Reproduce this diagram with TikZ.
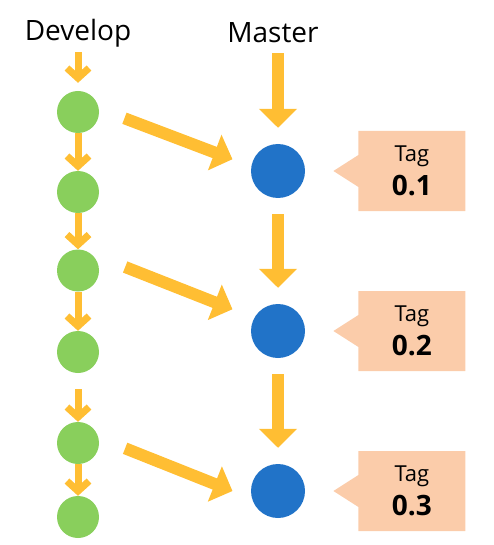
\documentclass[tikz,border=0pt]{standalone}
\usepackage{fontspec}
\setmainfont{Open Sans}
\usetikzlibrary{arrows.meta,positioning,shapes.callouts}

\definecolor{arrowyellow}{RGB}{255,190,51}
\definecolor{devgreen}{RGB}{137,207,92}
\definecolor{masterblue}{RGB}{33,115,200}
\definecolor{tagpeach}{RGB}{251,204,170}

\tikzstyle{devcommit} = [circle, fill=devgreen, minimum size=42pt, inner sep=0]
\tikzstyle{mastercommit} = [circle, fill=masterblue, minimum size=54pt, inner sep=0]
\tikzstyle{branch} = [inner sep=0, font=\fontsize{28}{32}\selectfont]
\tikzstyle{tag} = [rectangle callout, fill=tagpeach, minimum width=107pt,
    minimum height=80pt, inner sep=0, align=center,
    font=\fontsize{22}{26}\selectfont,
    callout relative pointer={(-25pt,0pt)}, callout pointer width=32pt]
\tikzstyle{devarrow} = [draw=arrowyellow, line width=7pt,
    -{Straight Barb[width=22pt,length=10pt]}]
\tikzstyle{mergearrow} = [draw=arrowyellow, line width=12pt,
    -{Triangle[width=37pt,length=19pt]}]

\begin{document}
\begin{tikzpicture}[x=1pt, y=-1pt]
    \useasboundingbox (0,0) rectangle (493,545);
    \node [branch, anchor=base] (develop) at (78,41) {Develop};
    \node [branch, anchor=base] (master) at (273,42.5) {Master};
    \node [devcommit] (d1) at (78,112) {};
    \node [devcommit] (d2) at (78,192) {};
    \node [devcommit] (d3) at (78,270.5) {};
    \node [devcommit] (d4) at (78,352) {};
    \node [devcommit] (d5) at (78,443) {};
    \node [devcommit] (d6) at (78,517) {};
    \node [mastercommit] (m1) at (278,171) {};
    \node [mastercommit] (m2) at (278,331) {};
    \node [mastercommit] (m3) at (278,491) {};
    \node [tag, right=53pt of m1] (tag1) {Tag\\[8pt]{\fontsize{28}{34}\selectfont\bfseries 0.1}};
    \node [tag, right=53pt of m2] (tag2) {Tag\\[8pt]{\fontsize{28}{34}\selectfont\bfseries 0.2}};
    \node [tag, right=53pt of m3] (tag3) {Tag\\[8pt]{\fontsize{28}{34}\selectfont\bfseries 0.3}};
    % develop line
    \draw [devarrow, shorten <=4pt, shorten >=8pt] (develop) -- (d1);
    \draw [devarrow] (d1) -- (d2);
    \draw [devarrow] (d2) -- (d3);
    \draw [devarrow] (d3) -- (d4);
    \draw [devarrow, shorten <=16pt] (d4) -- (d5);
    \draw [devarrow] (d5) -- (d6);
    % master line
    \draw [mergearrow, shorten <=10.5pt, shorten >=16pt] (m1 |- master.south) -- (m1);
    \draw [mergearrow, shorten <=16pt, shorten >=16pt] (m1) -- (m2);
    \draw [mergearrow, shorten <=16pt, shorten >=16pt] (m2) -- (m3);
    % merges
    \draw [mergearrow, shorten <=27pt, shorten >=19.6pt] ([yshift=3.3pt]d1.east) -- ([yshift=4.8pt]m1.west);
    \draw [mergearrow, shorten <=27.9pt, shorten >=19.7pt] ([yshift=13.7pt]d3.east) -- ([yshift=14.5pt]m2.west);
    \draw [mergearrow, shorten <=27.9pt, shorten >=19.7pt] ([yshift=5pt]d5.east) -- ([yshift=-7.3pt]m3.west);
\end{tikzpicture}
\end{document}
